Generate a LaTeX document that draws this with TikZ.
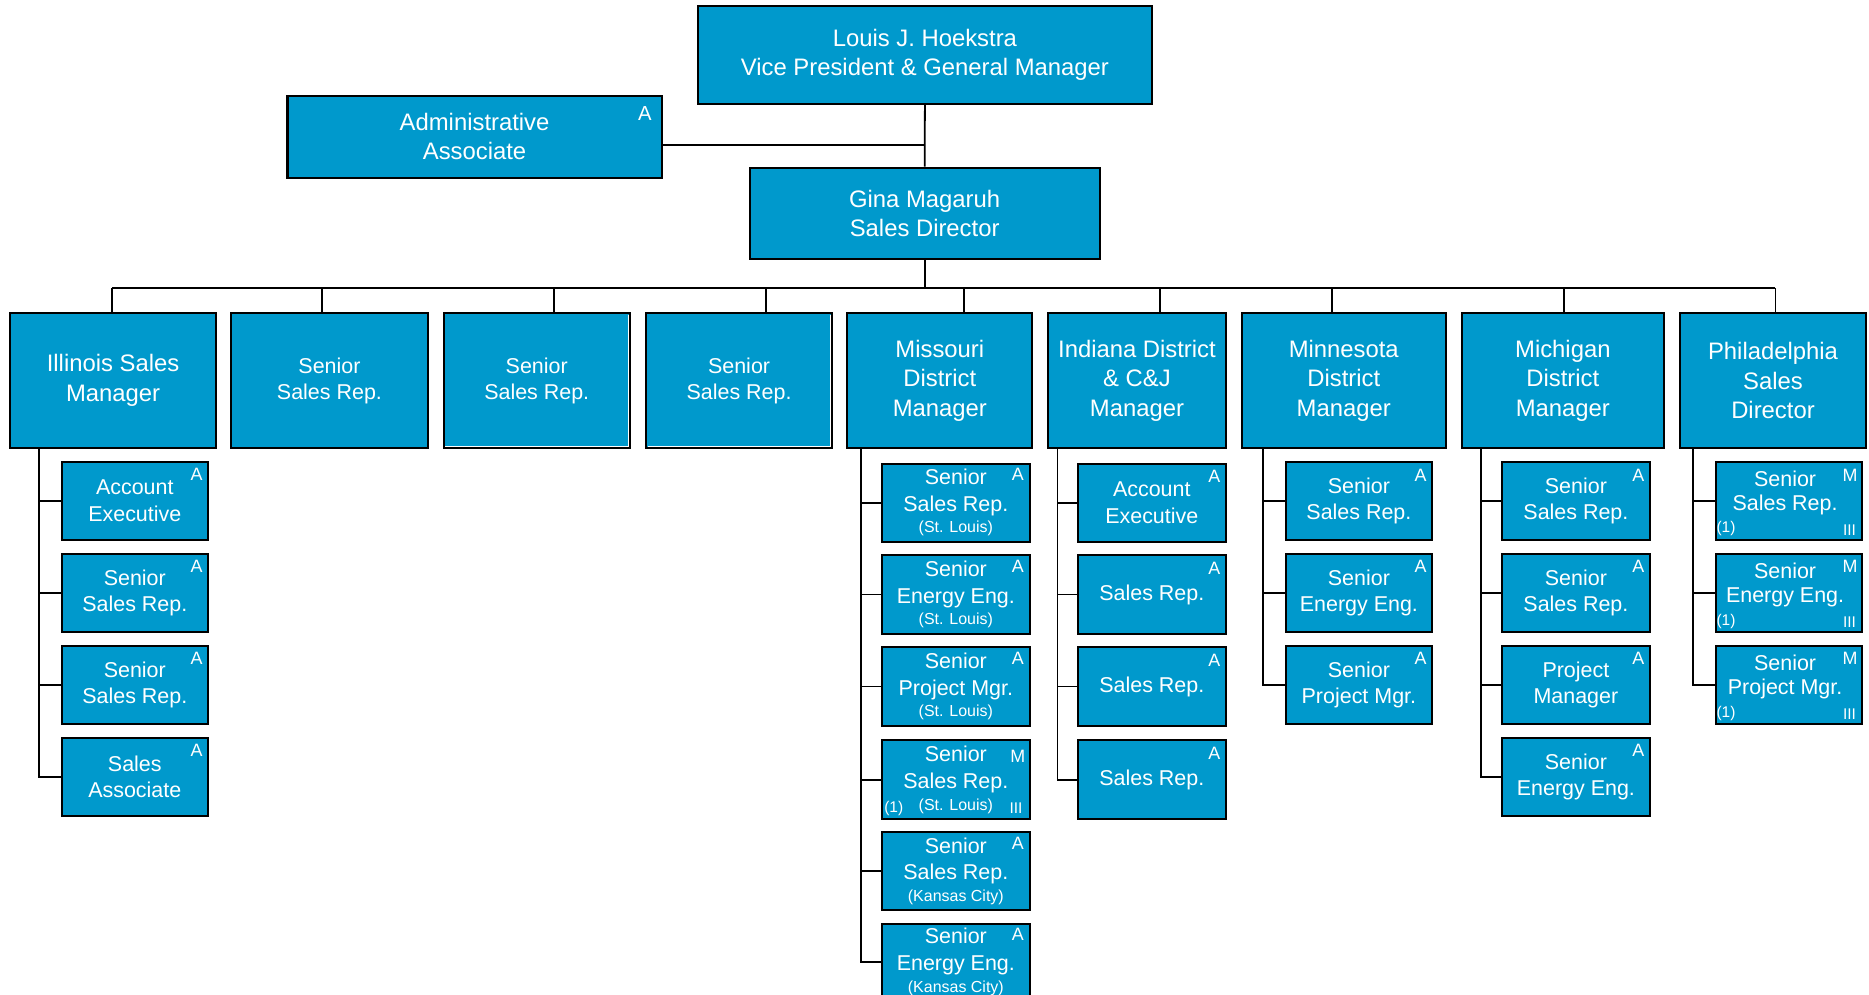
\documentclass[tikz,border=0pt]{standalone}
\usepackage{fontspec}
\setmainfont{Liberation Sans}
\usetikzlibrary{calc}
\definecolor{boxblue}{RGB}{0,153,204}
\newcommand\bx[7]{%
  \pgfmathsetmacro\bxw{(#5-#3)*0.5}%
  \pgfmathsetmacro\bxh{(#6-#4)*0.5}%
  \node[#1,minimum width=\bxw pt,minimum height=\bxh pt] (#2) at ({(#3+#5)/2},{(#4+#6)/2}) {#7};}
\newcommand\mkbox[6]{\bx{sub}{#1}{#2}{#3}{#4}{#5}{#6}}
\newcommand\atag[2]{\node[tag] at ($(#1.north east)+(-10.5,11.5)$) {#2};}
\newcommand\loctxt[1]{{\fontsize{6.7}{8}\selectfont #1}}
\begin{document}
\begin{tikzpicture}[x=0.5pt,y=-0.5pt,
  box/.style={draw=black,line width=0.85pt,fill=boxblue,text=white,align=center,inner sep=0pt},
  big/.style={box,font=\fontsize{10}{12.4}\selectfont},
  mid/.style={box,font=\fontsize{9}{11}\selectfont},
  sub/.style={box,font=\fontsize{9}{11.2}\selectfont},
  subtext/.style={text=white,align=center,inner sep=0pt,font=\fontsize{9}{10.2}\selectfont},
  tag/.style={text=white,inner sep=0pt,font=\fontsize{7.5}{8}\selectfont},
  smalltag/.style={text=white,inner sep=0pt,font=\fontsize{6.5}{8}\selectfont},
  conn/.style={draw=black,line width=0.75pt},
  inner/.style={draw=white,line width=0.45pt}]
\clip (0,0) rectangle (1568,834);
\fill[white] (0,0) rectangle (1568,834);

% top
\bx{big}{vp}{585.5}{4.75}{966.4}{87}{Louis J. Hoekstra\\Vice President \& General Manager}
\bx{big}{admin}{241.2}{80.3}{555.1}{149}{Administrative\\Associate}
\node[tag,font=\fontsize{8.5}{9}\selectfont] (admint) at (541,95) {A};
\bx{big}{gina}{628.9}{140.7}{922.6}{217.5}{Gina Magaruh\\Sales Director}

% level 2
\bx{big}{ill}{8.7}{263}{181}{375.6}{Illinois Sales\\Manager}
\bx{mid}{s1}{194}{263}{358.8}{375.6}{Senior\\Sales Rep.}
\bx{mid}{s2}{372.3}{263}{528.3}{375.6}{Senior\\Sales Rep.}
\bx{mid}{s3}{542.3}{263}{697.8}{375.6}{Senior\\Sales Rep.}
\bx{big}{mo}{710.9}{263}{866}{375.6}{Missouri\\District\\Manager}
\bx{big}{ind}{879.2}{263}{1028.5}{375.6}{Indiana District\\\& C\&J\\Manager}
\bx{big}{mn}{1041.7}{263}{1213}{375.6}{Minnesota\\District\\Manager}
\bx{big}{mi}{1226.3}{263}{1396}{375.6}{Michigan\\District\\Manager}
\bx{big}{ph}{1409.5}{263}{1565.4}{375.6}{Philadelphia\\Sales\\Director}
\draw[inner] ($(s2.north east)+(-1.8,2)$) -- ($(s2.south east)+(-1.8,-1.8)$) -- ($(s2.south west)+(2,-1.8)$);
\draw[inner] ($(s3.north east)+(-1.8,2)$) -- ($(s3.south east)+(-1.8,-1.8)$) -- ($(s3.south west)+(2,-1.8)$);

% Illinois subs
\mkbox{ill1}{51.7}{387.5}{174.5}{452.7}{Account\\Executive}
\mkbox{ill2}{51.7}{464.8}{174.5}{530.2}{Senior\\Sales Rep.}
\mkbox{ill3}{51.7}{542}{174.5}{607.4}{Senior\\Sales Rep.}
\mkbox{ill4}{51.7}{619}{174.5}{684.6}{Sales\\Associate}
\atag{ill1}{A}\atag{ill2}{A}\atag{ill3}{A}\atag{ill4}{A}

% Missouri subs
\mkbox{mo1}{739.7}{389}{864.1}{454.5}{Senior\\Sales Rep.\\[-2.2pt]\loctxt{(St. Louis)}}
\mkbox{mo2}{739.7}{466}{864.1}{531.5}{Senior\\Energy Eng.\\[-2.2pt]\loctxt{(St. Louis)}}
\mkbox{mo3}{739.7}{543}{864.1}{609}{Senior\\Project Mgr.\\[-2.2pt]\loctxt{(St. Louis)}}
\mkbox{mo4}{739.7}{621}{864.1}{687.5}{Senior\\Sales Rep.\\[-2.2pt]\loctxt{(St. Louis)}}
\mkbox{mo5}{739.7}{698}{864.1}{763.5}{Senior\\Sales Rep.\\[-2.2pt]\loctxt{(Kansas City)}}
\mkbox{mo6}{739.7}{775}{864.1}{839}{Senior\\Energy Eng.\\[-2.2pt]\loctxt{(Kansas City)}}
\node[tag] at ($(mo1.north east)+(-11,10)$) {A};
\node[tag] at ($(mo2.north east)+(-11,10)$) {A};
\node[tag] at ($(mo3.north east)+(-11,10)$) {A};
\node[tag] at ($(mo4.north east)+(-11,14)$) {M};
\node[tag] at ($(mo5.north east)+(-11,10)$) {A};
\node[tag] at ($(mo6.north east)+(-11,10)$) {A};
\node[smalltag] at ($(mo4.south west)+(11,-10.4)$) {(1)};
\node[smalltag] at ($(mo4.south east)+(-12.6,-10.4)$) {III};

% Indiana subs
\mkbox{in1}{904.1}{389}{1028.5}{454.5}{Account\\Executive}
\mkbox{in2}{904.1}{466}{1028.5}{531.5}{Sales Rep.}
\mkbox{in3}{904.1}{543}{1028.5}{609}{Sales Rep.}
\mkbox{in4}{904.1}{621}{1028.5}{687.5}{Sales Rep.}
\atag{in1}{A}\atag{in2}{A}\atag{in3}{A}\atag{in4}{A}

% Minnesota subs
\mkbox{mn1}{1078.6}{387.9}{1201.5}{452.8}{Senior\\Sales Rep.}
\mkbox{mn2}{1078.6}{464.8}{1201.5}{530.2}{Senior\\Energy Eng.}
\mkbox{mn3}{1078.6}{542}{1201.5}{607.4}{Senior\\Project Mgr.}
\atag{mn1}{A}\atag{mn2}{A}\atag{mn3}{A}

% Michigan subs
\mkbox{mi1}{1260}{387.9}{1384.2}{452.8}{Senior\\Sales Rep.}
\mkbox{mi2}{1260}{464.8}{1384.2}{530.2}{Senior\\Sales Rep.}
\mkbox{mi3}{1260}{542}{1384.2}{607.4}{Project\\Manager}
\mkbox{mi4}{1260}{619}{1384.2}{684.6}{Senior\\Energy Eng.}
\atag{mi1}{A}\atag{mi2}{A}\atag{mi3}{A}\atag{mi4}{A}

% Philadelphia subs
\mkbox{ph1}{1439.4}{387.9}{1561.8}{452.8}{}
\mkbox{ph2}{1439.4}{464.8}{1561.8}{530.2}{}
\mkbox{ph3}{1439.4}{542}{1561.8}{607.4}{}
\node[subtext] (ph1t) at ($(ph1.center)+(-3,-7)$) {Senior\\Sales Rep.};
\node[subtext] (ph2t) at ($(ph2.center)+(-3,-7)$) {Senior\\Energy Eng.};
\node[subtext] (ph3t) at ($(ph3.center)+(-3,-7)$) {Senior\\Project Mgr.};
\foreach \p in {ph1,ph2,ph3}{
  \node[tag] at ($(\p.north east)+(-10.5,11.5)$) {M};
  \node[smalltag] at ($(\p.south west)+(9.5,-10)$) {(1)};
  \node[smalltag] at ($(\p.south east)+(-11,-9)$) {III};
}

% connectors top
\draw[conn] (vp.south) -- (gina.north);
\coordinate (aj) at (776.2,121.5);
\draw[conn] (admin.east |- aj) -- (aj);

% bus
\coordinate (b0) at (94,241.5);
\coordinate (b1) at (270,241.5);
\coordinate (b2) at (464.8,241.5);
\coordinate (b3) at (642.4,241.5);
\coordinate (b4) at (808.6,241.5);
\coordinate (b5) at (973,241.5);
\coordinate (b6) at (1117.5,241.5);
\coordinate (b7) at (1311.8,241.5);
\coordinate (b8) at (1489.5,241.5);
\draw[conn] (gina.south) -- (gina.south |- b0);
\draw[conn] (b0) -- (b8);
\draw[conn] (b0) -- (b0 |- ill.north);
\draw[conn] (b1) -- (b1 |- s1.north);
\draw[conn] (b2) -- (b2 |- s2.north);
\draw[conn] (b3) -- (b3 |- s3.north);
\draw[conn] (b4) -- (b4 |- mo.north);
\draw[conn] (b5) -- (b5 |- ind.north);
\draw[conn] (b6) -- (b6 |- mn.north);
\draw[conn] (b7) -- (b7 |- mi.north);
\draw[conn] (b8) -- (b8 |- ph.north);

% feeders
\coordinate (illv) at ($(ill.south west)+(25,0)$);
\draw[conn] (illv) |- (ill4.west);
\foreach \i in {1,2,3} \draw[conn] (ill\i.west) -- (ill\i.west -| illv);
\coordinate (mov) at ($(mo.south west)+(12.3,0)$);
\draw[conn] (mov) |- (mo6.west);
\foreach \i in {1,...,5} \draw[conn] (mo\i.west) -- (mo\i.west -| mov);
\coordinate (inv) at ($(ind.south west)+(8.9,0)$);
\draw[conn] (inv) |- (in4.west);
\foreach \i in {1,2,3} \draw[conn] (in\i.west) -- (in\i.west -| inv);
\coordinate (mnv) at ($(mn.south west)+(18.7,0)$);
\draw[conn] (mnv) |- (mn3.west);
\foreach \i in {1,2} \draw[conn] (mn\i.west) -- (mn\i.west -| mnv);
\coordinate (miv) at ($(mi.south west)+(17.2,0)$);
\draw[conn] (miv) |- (mi4.west);
\foreach \i in {1,2,3} \draw[conn] (mi\i.west) -- (mi\i.west -| miv);
\coordinate (phv) at ($(ph.south west)+(11.7,0)$);
\draw[conn] (phv) |- (ph3.west);
\foreach \i in {1,2} \draw[conn] (ph\i.west) -- (ph\i.west -| phv);
\end{tikzpicture}
\end{document}
